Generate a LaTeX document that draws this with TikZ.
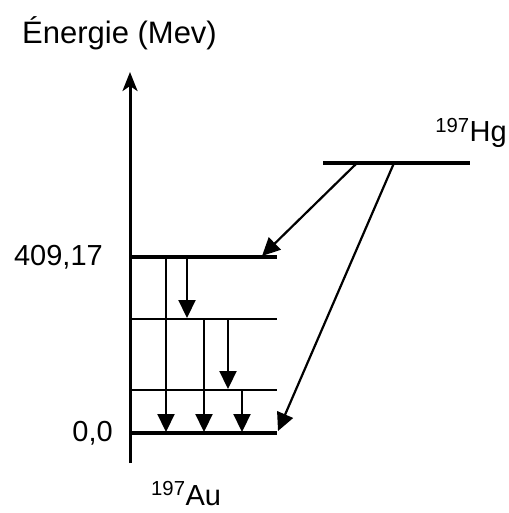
\documentclass[tikz,border=0pt]{standalone}
\usepackage{fontspec}
\setmainfont{Liberation Sans}
\usetikzlibrary{arrows.meta}
\begin{document}
\begin{tikzpicture}[x=1pt,y=-1pt,
  level/.style={line width=3.4pt},
  sublevel/.style={line width=2.4pt},
  axisline/.style={line width=3pt,-{Stealth[length=19pt,width=15pt,inset=5pt]}},
  trans/.style={line width=2.2pt,-{Triangle[length=18pt,width=17pt]}},
  lbl/.style={inner sep=0pt,font=\fontsize{29}{34}\selectfont},
]
\useasboundingbox (0,0) rectangle (508,513);
% axis
\coordinate (ax0) at (130,463);
\coordinate (ax1) at (130,72);
\draw[axisline] (ax0) -- (ax1);
% levels of Au
\coordinate (L3a) at (130,257); \coordinate (L3b) at (277,257);
\coordinate (L2a) at (130,319); \coordinate (L2b) at (277,319);
\coordinate (L1a) at (130,390); \coordinate (L1b) at (277,390);
\coordinate (L0a) at (130,433); \coordinate (L0b) at (277,433);
\draw[level] (L3a) -- (L3b);
\draw[sublevel] (L2a) -- (L2b);
\draw[sublevel] (L1a) -- (L1b);
\draw[level] (L0a) -- (L0b);
% Hg level
\coordinate (Hga) at (323,163); \coordinate (Hgb) at (470,163);
\draw[level] (Hga) -- (Hgb);
% transitions from Hg
\coordinate (h1) at (357,163); \coordinate (h1e) at (262,256);
\coordinate (h2) at (394,163); \coordinate (h2e) at (278,431);
\draw[trans] (h1) -- (h1e);
\draw[trans] (h2) -- (h2e);
% gamma transitions
\coordinate (g1s) at (166,257); \coordinate (g1e) at (166,432);
\coordinate (g2s) at (187,257); \coordinate (g2e) at (187,318);
\coordinate (g3s) at (204,319); \coordinate (g3e) at (204,432);
\coordinate (g4s) at (228,319); \coordinate (g4e) at (228,389);
\coordinate (g5s) at (242,390); \coordinate (g5e) at (242,432);
\draw[trans] (g1s) -- (g1e);
\draw[trans] (g2s) -- (g2e);
\draw[trans] (g3s) -- (g3e);
\draw[trans] (g4s) -- (g4e);
\draw[trans] (g5s) -- (g5e);
% labels
\node[lbl,anchor=west,font=\fontsize{31}{36}\selectfont] (title) at (22,33) {Énergie (Mev)};
\node[lbl,anchor=east] (e409) at (103,257) {409,17};
\node[lbl,anchor=east] (e0) at (113,433) {0,0};
\node[lbl,anchor=base west] (au) at (151,505) {\textsuperscript{197}Au};
\node[lbl,anchor=base east] (hg) at (507,142) {\textsuperscript{197}Hg};
\end{tikzpicture}
\end{document}
